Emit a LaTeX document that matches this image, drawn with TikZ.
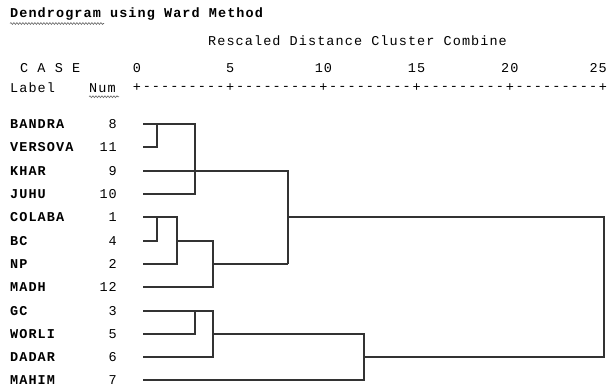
\documentclass[tikz,border=0pt]{standalone}
\usepackage{fontspec}
\setmonofont{Liberation Mono}
\usetikzlibrary{decorations.pathmorphing}

\tikzset{
    txt/.style={font=\ttfamily\fontsize{13.5}{16}\selectfont\addfontfeatures{LetterSpace=8}, inner sep=0pt, text=black},
    lbl/.style={txt, font=\ttfamily\bfseries\fontsize{13.5}{16}\selectfont\addfontfeatures{LetterSpace=8}, anchor=west},
    num/.style={txt, anchor=east},
    link/.style={line width=2pt, black!80, line join=miter},
    squiggle/.style={black!60, line width=0.6pt, decorate, decoration={snake, amplitude=0.9pt, segment length=3pt}}
}

\begin{document}
\begin{tikzpicture}[x=1pt, y=-1pt]
    \useasboundingbox (0,0) rectangle (608,389);

    % 1. Kopfzeilen
    \node[lbl] (title) at (10,14) {Dendrogram using Ward Method};
    \node[txt, anchor=west] (scale) at (208,41) {Rescaled Distance Cluster Combine};
    \node[txt, anchor=west] (case) at (20,68) {C A S E};
    \node[txt, anchor=west] (label) at (10,88) {Label};
    \node[txt, anchor=west] (numhead) at (89,88) {Num};
    \draw[squiggle] (title.south west) ++(0,3) -- ++(94,0);
    \draw[squiggle] (numhead.south west) ++(0,4) -- ++(30,0);

    % 2. Skala 0 ... 25
    \foreach \d in {0,5,...,20} {
        \node[txt] (t\d) at ({137+18.64*\d},68) {\d};
    }
    \node[txt, anchor=east] (t25) at (607,68) {25};
    \foreach \d in {0,5,...,25} {
        \node[txt] (p\d) at ({137+18.64*\d},88) {+};
    }
    \foreach \d in {0,5,...,20} {
        \node[txt] (m\d) at ({137+18.64*(\d+2.5)},88) {---------};
    }

    % 3. Faelle
    \foreach \name/\nr/\y in {BANDRA/8/124, VERSOVA/11/147, KHAR/9/171, JUHU/10/194,
            COLABA/1/217, BC/4/241, NP/2/264, MADH/12/287,
            GC/3/311, WORLI/5/334, DADAR/6/357, MAHIM/7/380} {
        \node[lbl] (n\nr) at (10,\y) {\name};
        \node[num] (c\nr) at (117,\y) {\nr};
        \coordinate (s\nr) at (143,\y);
    }

    % 4. Fusionsstufen
    \coordinate (xa) at (157,0);
    \coordinate (xb) at (177,0);
    \coordinate (xc) at (195,0);
    \coordinate (xd) at (213,0);
    \coordinate (xe) at (288,0);
    \coordinate (xf) at (364,0);
    \coordinate (xg) at (604,0);

    % 5. Baum
    \draw[link] (s8) -- (s8-|xc) -- (s10-|xc) -- (s10);
    \draw[link] (s11) -- (s11-|xa) -- (s8-|xa);
    \draw[link] (s9) -- (s9-|xe) -- (s2-|xe);
    \draw[link] (s1) -- (s1-|xb) -- (s2-|xb) -- (s2);
    \draw[link] (s4) -- (s4-|xa) -- (s1-|xa);
    \draw[link] (s4-|xb) -- (s4-|xd) -- (s12-|xd) -- (s12);
    \draw[link] (s2-|xd) -- (s2-|xe);
    \draw[link] (s1-|xe) -- (s1-|xg) -- (s6-|xg) -- (s6-|xf);
    \draw[link] (s3) -- (s3-|xd) -- (s6-|xd) -- (s6);
    \draw[link] (s5) -- (s5-|xc) -- (s3-|xc);
    \draw[link] (s5-|xd) -- (s5-|xf) -- (s7-|xf) -- (s7);
\end{tikzpicture}
\end{document}
